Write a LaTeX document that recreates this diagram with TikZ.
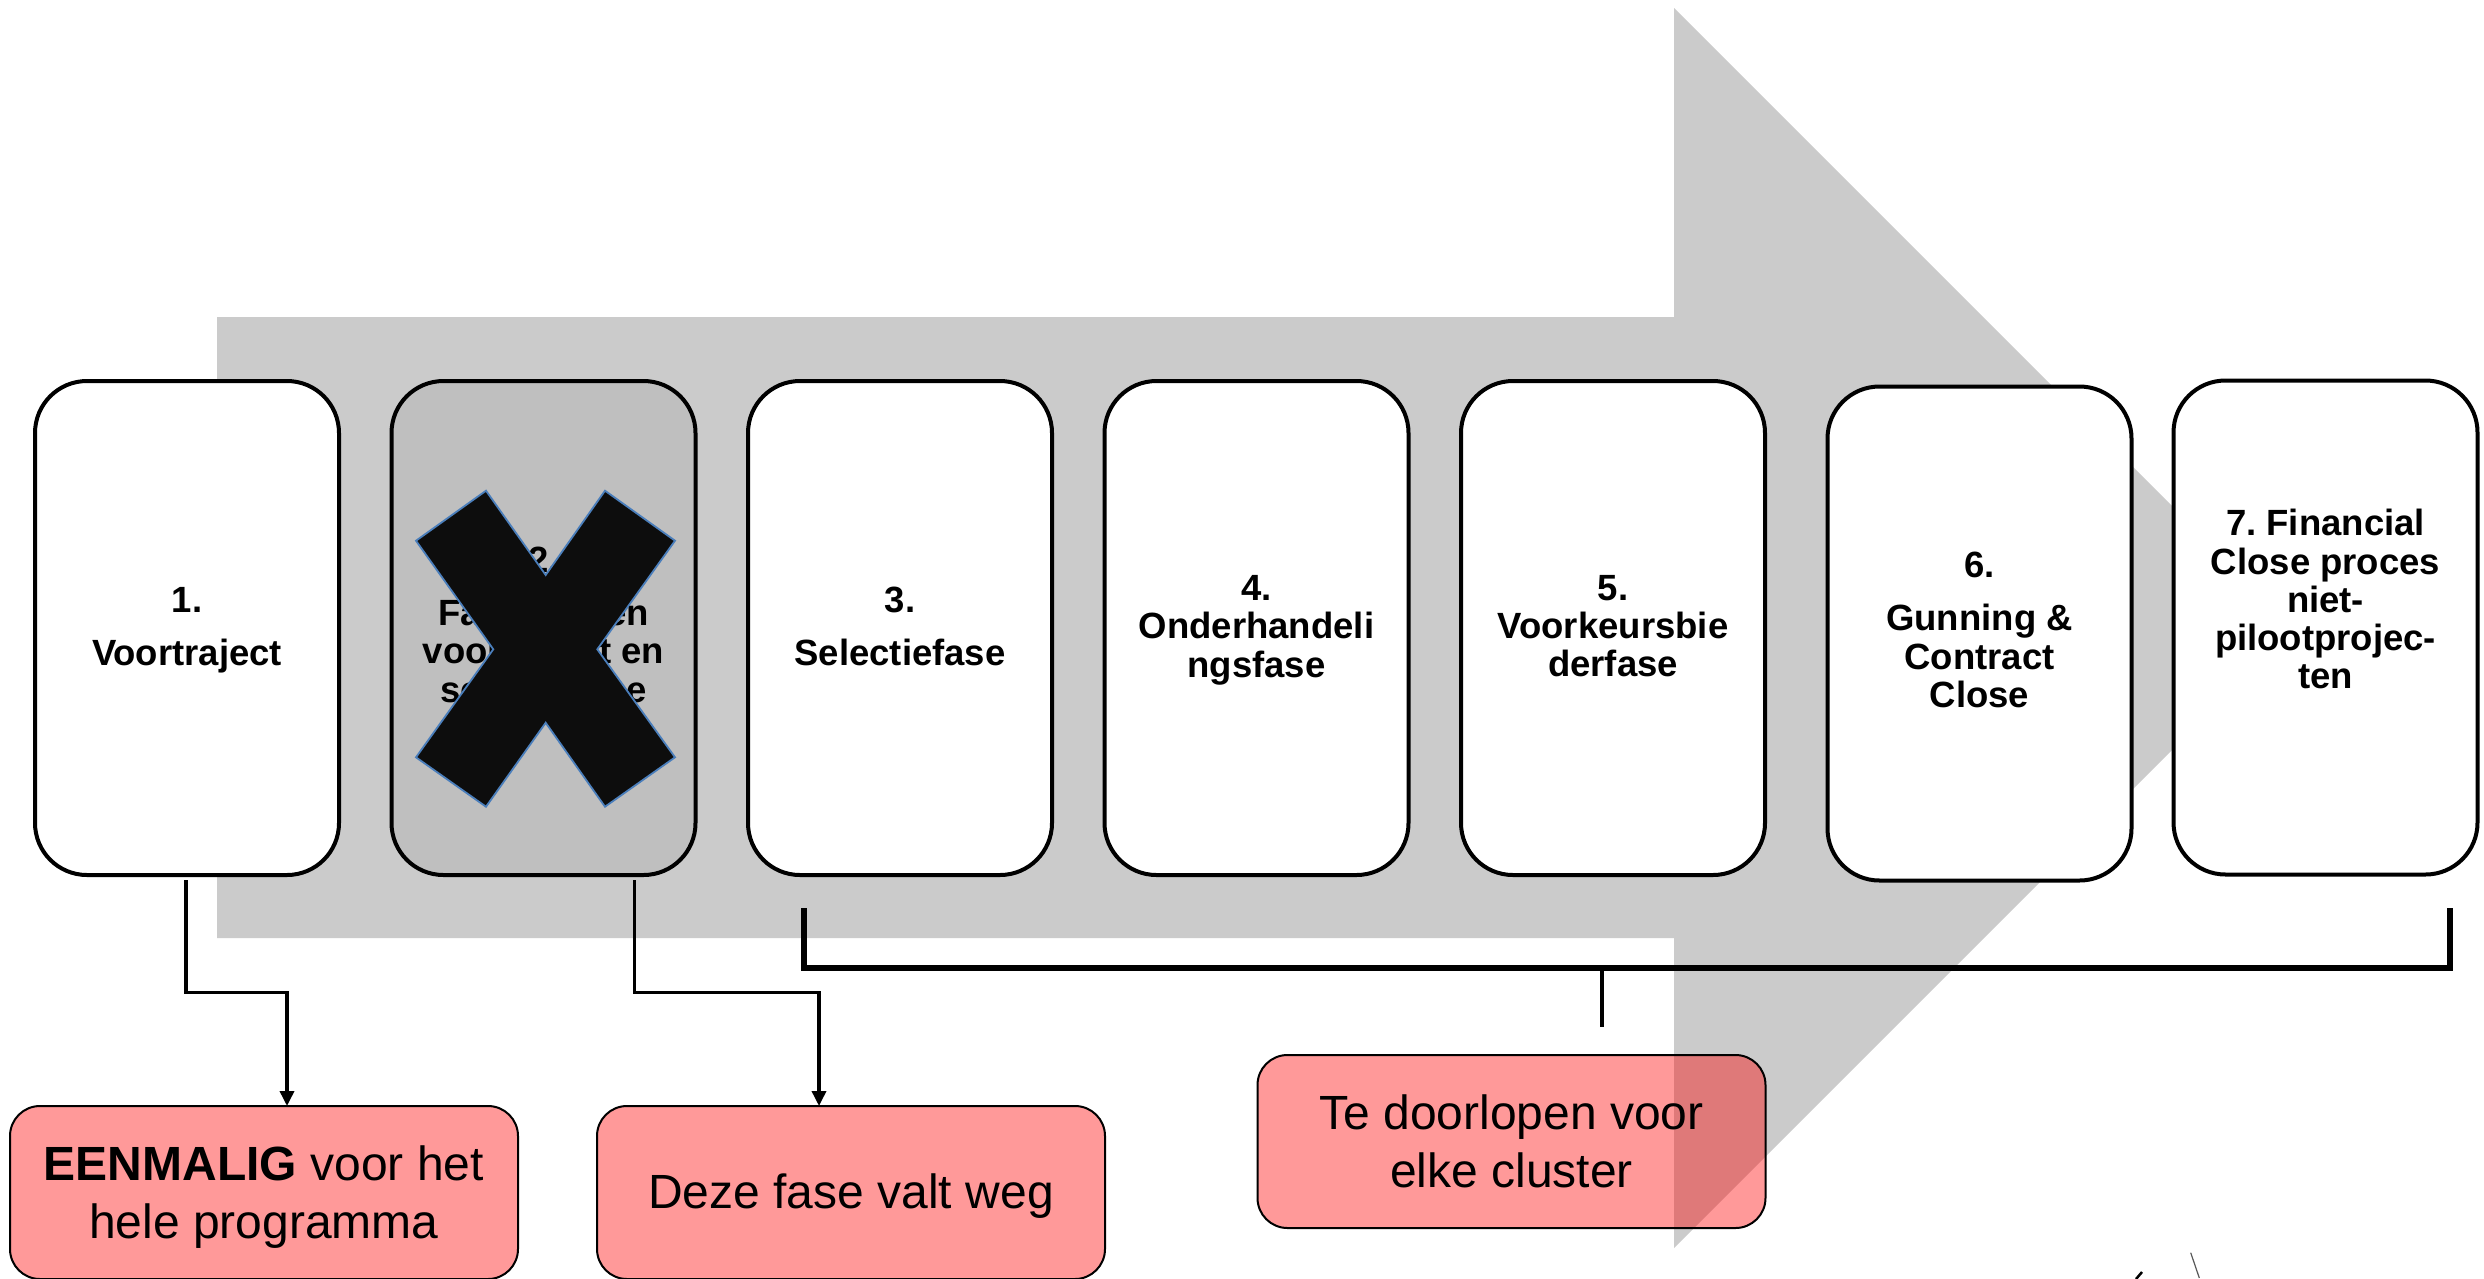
\documentclass[tikz,border=0pt]{standalone}
\usepackage{fontspec}
\setmainfont{Liberation Sans}
\usetikzlibrary{calc,arrows.meta}
\definecolor{arrowgray}{HTML}{CBCBCB}
\definecolor{boxgray}{HTML}{BFBFBF}
\definecolor{xblack}{HTML}{0D0D0D}
\definecolor{xblue}{HTML}{4A7EBB}
\frenchspacing
\begin{document}
\begin{tikzpicture}[x=1pt,y=-1pt,
  phase/.style={draw=black, line width=4pt, fill=white, rounded corners=52pt,
    minimum width=304pt, minimum height=494pt, inner sep=0pt, outer sep=0pt},
  phasetext/.style={align=center, font=\bfseries\fontsize{36.5}{38.3}\selectfont, inner sep=0pt},
  note/.style={draw=black, line width=2pt, fill=red, fill opacity=0.4, text opacity=1,
    rounded corners=30pt, minimum width=508pt, minimum height=173pt, inner sep=0pt, outer sep=0pt},
  notetext/.style={align=center, font=\fontsize{48}{58}\selectfont, inner sep=0pt},
  conn/.style={draw=black, line width=3.5pt, line join=miter, -{Triangle[length=15pt,width=14pt]}},
  bracket/.style={draw=black, line width=5.5pt, line join=miter},
  stem/.style={draw=black, line width=4.5pt},
  xmark/.style={fill=xblack, draw=xblue, line width=1.8pt, line join=miter},
]
\useasboundingbox (0,0) rectangle (2484,1278);
\fill[white] (0,0) rectangle (2484,1278);

% big background arrow
\fill[arrowgray] (217,317) -- (1674,317) -- (1674,8) -- (2294,628) -- (1674,1248)
  -- (1674,938) -- (217,938) -- cycle;

% notes
\node[note] (p1) at (264,1192.5) {};
\node[note] (p2) at (851,1192.5) {};
\node[note] (p3) at (1511.5,1141.5) {};
\node[notetext] (p1t) at (264,1196.8) {\textbf{EENMALIG} voor het\\hele programma};
\node[notetext] (p2t) at (851,1195.8) {Deze fase valt weg};
\node[notetext] (p3t) at (1511.5,1141.3) {Te doorlopen voor\\elke cluster};

% bracket
\coordinate (brL) at (804,908);
\coordinate (brR) at (2450,908);
\coordinate (brM) at (1602,968);
\coordinate (brS) at (1602,1027);
\draw[bracket] (brL) -- (brL |- brM) -- (brR |- brM) -- (brR);
\draw[stem] (brM) -- (brS);

% phase boxes
\node[phase] (b1) at (187,628) {};
\node[phase, fill=boxgray] (b2) at (543.5,628) {};
\node[phase] (b3) at (900,628) {};
\node[phase] (b4) at (1256.5,628) {};
\node[phase] (b5) at (1613,628) {};
\node[phase] (b6) at (1979.5,633.5) {};
\node[phase] (b7) at (2325.5,627.5) {};

\node[phasetext] (t1) at (187,630.4) {1.\\[15pt]Voortraject};
\node[phasetext] (t2) at (543.5,624.6) {2.\\[15pt]Fase tussen\\voortraject en\\selectiefase};
\node[phasetext] (t3) at (900,626.6) {3.\\[15pt]Selectiefase};
\node[phasetext] (t4) at (1256.5,630.1) {4.\\Onderhandeli\\ngsfase};
\node[phasetext] (t5) at (1613,626.3) {5.\\Voorkeursbie\\derfase};
\node[phasetext] (t6) at (1979.5,629.9) {6.\\[15pt]Gunning \&\\Contract\\Close};
\node[phasetext] (t7) at (2325.5,599.3) {7. Financial\\Close proces\\niet-\\pilootprojec-\\ten};

% cross over phase 2
\filldraw[xmark] (486,490.7) -- (545.7,575) -- (605,490.7) -- (675,540.7) -- (597.3,649.3)
  -- (675,757.3) -- (605,806.7) -- (545.7,722.7) -- (486,806.7) -- (416,757.3)
  -- (493.3,649.3) -- (416,540.7) -- cycle;

% connectors
\coordinate (k1) at (287,992.7);
\coordinate (k2) at (819,992.7);
\draw[conn] ($(b1.south)+(-1,5)$) |- (k1) -- (k1 |- p1.north);
\draw[conn] ($(b2.south)+(91,5)$) |- (k2) -- (k2 |- p2.north);

% small cut-off marks at the bottom edge
\draw[gray!70!black, line width=1.2pt] (2190.7,1252.7) -- (2199.3,1278);
\draw[black, line width=2.5pt] (2136,1279) -- (2142,1272);
\end{tikzpicture}
\end{document}
